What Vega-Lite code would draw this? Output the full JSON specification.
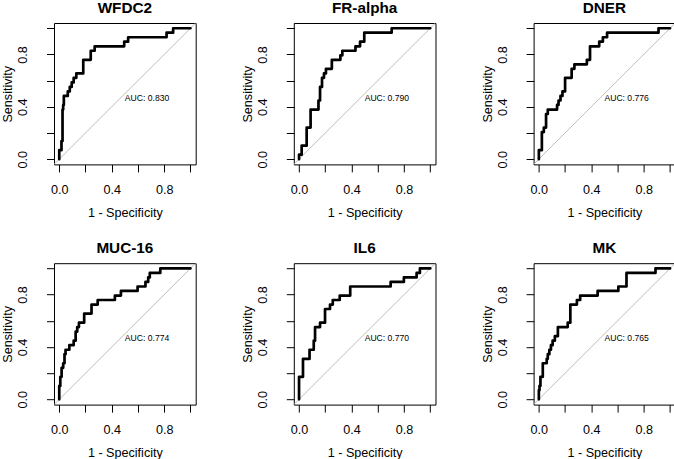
{
  "$schema": "https://vega.github.io/schema/vega-lite/v6.json",
  "padding": 0,
  "autosize": {"type": "pad"},
  "columns": 3,
  "spacing": {"row": 98.2, "column": 97.8},
  "bounds": "flush",
  "datasets": {
    "diag": [{"i": 0, "x": -0.04, "y": -0.04}, {"i": 1, "x": 1.04, "y": 1.04}],
    "WFDC2": [
      {"i":0,"x":0,"y":0},{"i":1,"x":0,"y":0.069},{"i":2,"x":0.017,"y":0.069},{"i":3,"x":0.017,"y":0.138},
      {"i":4,"x":0.025,"y":0.138},{"i":5,"x":0.025,"y":0.379},{"i":6,"x":0.03,"y":0.379},{"i":7,"x":0.03,"y":0.414},
      {"i":8,"x":0.035,"y":0.414},{"i":9,"x":0.035,"y":0.483},{"i":10,"x":0.065,"y":0.483},{"i":11,"x":0.065,"y":0.517},
      {"i":12,"x":0.08,"y":0.517},{"i":13,"x":0.08,"y":0.552},{"i":14,"x":0.095,"y":0.552},{"i":15,"x":0.095,"y":0.586},
      {"i":16,"x":0.11,"y":0.586},{"i":17,"x":0.11,"y":0.621},{"i":18,"x":0.13,"y":0.621},{"i":19,"x":0.13,"y":0.655},
      {"i":20,"x":0.183,"y":0.655},{"i":21,"x":0.183,"y":0.759},{"i":22,"x":0.24,"y":0.759},{"i":23,"x":0.24,"y":0.828},
      {"i":24,"x":0.27,"y":0.828},{"i":25,"x":0.27,"y":0.862},{"i":26,"x":0.495,"y":0.862},{"i":27,"x":0.495,"y":0.897},
      {"i":28,"x":0.525,"y":0.897},{"i":29,"x":0.525,"y":0.931},{"i":30,"x":0.818,"y":0.931},{"i":31,"x":0.818,"y":0.966},
      {"i":32,"x":0.868,"y":0.966},{"i":33,"x":0.868,"y":1},{"i":34,"x":1,"y":1}
    ],
    "FRalpha": [
      {"i":0,"x":0,"y":0},{"i":1,"x":0,"y":0.034},{"i":2,"x":0.02,"y":0.034},{"i":3,"x":0.02,"y":0.103},
      {"i":4,"x":0.058,"y":0.103},{"i":5,"x":0.058,"y":0.241},{"i":6,"x":0.088,"y":0.241},{"i":7,"x":0.088,"y":0.379},
      {"i":8,"x":0.148,"y":0.379},{"i":9,"x":0.148,"y":0.448},{"i":10,"x":0.16,"y":0.448},{"i":11,"x":0.16,"y":0.552},
      {"i":12,"x":0.175,"y":0.552},{"i":13,"x":0.175,"y":0.621},{"i":14,"x":0.19,"y":0.621},{"i":15,"x":0.19,"y":0.655},
      {"i":16,"x":0.205,"y":0.655},{"i":17,"x":0.205,"y":0.69},{"i":18,"x":0.25,"y":0.69},{"i":19,"x":0.25,"y":0.759},
      {"i":20,"x":0.315,"y":0.759},{"i":21,"x":0.315,"y":0.793},{"i":22,"x":0.33,"y":0.793},{"i":23,"x":0.33,"y":0.828},
      {"i":24,"x":0.43,"y":0.828},{"i":25,"x":0.43,"y":0.862},{"i":26,"x":0.465,"y":0.862},{"i":27,"x":0.465,"y":0.897},
      {"i":28,"x":0.497,"y":0.897},{"i":29,"x":0.497,"y":0.966},{"i":30,"x":0.706,"y":0.966},{"i":31,"x":0.706,"y":1},
      {"i":32,"x":1,"y":1}
    ],
    "DNER": [
      {"i":0,"x":0,"y":0},{"i":1,"x":0,"y":0.069},{"i":2,"x":0.023,"y":0.069},{"i":3,"x":0.023,"y":0.207},
      {"i":4,"x":0.038,"y":0.207},{"i":5,"x":0.038,"y":0.241},{"i":6,"x":0.055,"y":0.241},{"i":7,"x":0.055,"y":0.345},
      {"i":8,"x":0.068,"y":0.345},{"i":9,"x":0.068,"y":0.379},{"i":10,"x":0.139,"y":0.379},{"i":11,"x":0.139,"y":0.414},
      {"i":12,"x":0.15,"y":0.414},{"i":13,"x":0.15,"y":0.448},{"i":14,"x":0.165,"y":0.448},{"i":15,"x":0.165,"y":0.483},
      {"i":16,"x":0.18,"y":0.483},{"i":17,"x":0.18,"y":0.517},{"i":18,"x":0.2,"y":0.517},{"i":19,"x":0.2,"y":0.621},
      {"i":20,"x":0.25,"y":0.621},{"i":21,"x":0.25,"y":0.69},{"i":22,"x":0.271,"y":0.69},{"i":23,"x":0.271,"y":0.724},
      {"i":24,"x":0.366,"y":0.724},{"i":25,"x":0.366,"y":0.759},{"i":26,"x":0.39,"y":0.759},{"i":27,"x":0.39,"y":0.862},
      {"i":28,"x":0.46,"y":0.862},{"i":29,"x":0.46,"y":0.897},{"i":30,"x":0.488,"y":0.897},{"i":31,"x":0.488,"y":0.931},
      {"i":32,"x":0.52,"y":0.931},{"i":33,"x":0.52,"y":0.966},{"i":34,"x":0.912,"y":0.966},{"i":35,"x":0.912,"y":1},
      {"i":36,"x":1,"y":1}
    ],
    "MUC16": [
      {"i":0,"x":0,"y":0},{"i":1,"x":0,"y":0.103},{"i":2,"x":0.008,"y":0.103},{"i":3,"x":0.008,"y":0.172},
      {"i":4,"x":0.018,"y":0.172},{"i":5,"x":0.018,"y":0.241},{"i":6,"x":0.03,"y":0.241},{"i":7,"x":0.03,"y":0.276},
      {"i":8,"x":0.04,"y":0.276},{"i":9,"x":0.04,"y":0.345},{"i":10,"x":0.048,"y":0.345},{"i":11,"x":0.048,"y":0.379},
      {"i":12,"x":0.077,"y":0.379},{"i":13,"x":0.077,"y":0.414},{"i":14,"x":0.11,"y":0.414},{"i":15,"x":0.11,"y":0.448},
      {"i":16,"x":0.125,"y":0.448},{"i":17,"x":0.125,"y":0.517},{"i":18,"x":0.137,"y":0.517},{"i":19,"x":0.137,"y":0.552},
      {"i":20,"x":0.15,"y":0.552},{"i":21,"x":0.15,"y":0.586},{"i":22,"x":0.19,"y":0.586},{"i":23,"x":0.19,"y":0.655},
      {"i":24,"x":0.246,"y":0.655},{"i":25,"x":0.246,"y":0.724},{"i":26,"x":0.293,"y":0.724},{"i":27,"x":0.293,"y":0.759},
      {"i":28,"x":0.424,"y":0.759},{"i":29,"x":0.424,"y":0.793},{"i":30,"x":0.47,"y":0.793},{"i":31,"x":0.47,"y":0.828},
      {"i":32,"x":0.597,"y":0.828},{"i":33,"x":0.597,"y":0.862},{"i":34,"x":0.657,"y":0.862},{"i":35,"x":0.657,"y":0.897},
      {"i":36,"x":0.678,"y":0.897},{"i":37,"x":0.678,"y":0.931},{"i":38,"x":0.69,"y":0.931},{"i":39,"x":0.69,"y":0.966},
      {"i":40,"x":0.77,"y":0.966},{"i":41,"x":0.77,"y":1},{"i":42,"x":1,"y":1}
    ],
    "IL6": [
      {"i":0,"x":0,"y":0},{"i":1,"x":0,"y":0.172},{"i":2,"x":0.03,"y":0.172},{"i":3,"x":0.03,"y":0.31},
      {"i":4,"x":0.08,"y":0.31},{"i":5,"x":0.08,"y":0.379},{"i":6,"x":0.112,"y":0.379},{"i":7,"x":0.112,"y":0.448},
      {"i":8,"x":0.122,"y":0.448},{"i":9,"x":0.122,"y":0.552},{"i":10,"x":0.16,"y":0.552},{"i":11,"x":0.16,"y":0.586},
      {"i":12,"x":0.198,"y":0.586},{"i":13,"x":0.198,"y":0.69},{"i":14,"x":0.236,"y":0.69},{"i":15,"x":0.236,"y":0.724},
      {"i":16,"x":0.257,"y":0.724},{"i":17,"x":0.257,"y":0.759},{"i":18,"x":0.31,"y":0.759},{"i":19,"x":0.31,"y":0.793},
      {"i":20,"x":0.39,"y":0.793},{"i":21,"x":0.39,"y":0.862},{"i":22,"x":0.698,"y":0.862},{"i":23,"x":0.698,"y":0.897},
      {"i":24,"x":0.799,"y":0.897},{"i":25,"x":0.799,"y":0.931},{"i":26,"x":0.896,"y":0.931},{"i":27,"x":0.896,"y":0.966},
      {"i":28,"x":0.921,"y":0.966},{"i":29,"x":0.921,"y":1},{"i":30,"x":1,"y":1}
    ],
    "MK": [
      {"i":0,"x":0,"y":0},{"i":1,"x":0,"y":0.069},{"i":2,"x":0.005,"y":0.069},{"i":3,"x":0.005,"y":0.103},
      {"i":4,"x":0.012,"y":0.103},{"i":5,"x":0.012,"y":0.172},{"i":6,"x":0.03,"y":0.172},{"i":7,"x":0.03,"y":0.276},
      {"i":8,"x":0.06,"y":0.276},{"i":9,"x":0.06,"y":0.31},{"i":10,"x":0.068,"y":0.31},{"i":11,"x":0.068,"y":0.345},
      {"i":12,"x":0.08,"y":0.345},{"i":13,"x":0.08,"y":0.379},{"i":14,"x":0.092,"y":0.379},{"i":15,"x":0.092,"y":0.414},
      {"i":16,"x":0.105,"y":0.414},{"i":17,"x":0.105,"y":0.448},{"i":18,"x":0.122,"y":0.448},{"i":19,"x":0.122,"y":0.483},
      {"i":20,"x":0.145,"y":0.483},{"i":21,"x":0.145,"y":0.552},{"i":22,"x":0.22,"y":0.552},{"i":23,"x":0.22,"y":0.586},
      {"i":24,"x":0.24,"y":0.586},{"i":25,"x":0.24,"y":0.724},{"i":26,"x":0.29,"y":0.724},{"i":27,"x":0.29,"y":0.759},
      {"i":28,"x":0.315,"y":0.759},{"i":29,"x":0.315,"y":0.793},{"i":30,"x":0.448,"y":0.793},{"i":31,"x":0.448,"y":0.828},
      {"i":32,"x":0.606,"y":0.828},{"i":33,"x":0.606,"y":0.862},{"i":34,"x":0.668,"y":0.862},{"i":35,"x":0.668,"y":0.966},
      {"i":36,"x":0.889,"y":0.966},{"i":37,"x":0.889,"y":1},{"i":38,"x":1,"y":1}
    ]
  },
  "concat": [
    {
      "title": "WFDC2", "width": 141.7, "height": 141.4,
      "encoding": {
        "x": {"field": "x", "type": "quantitative", "scale": {"domain": [-0.04, 1.04], "nice": false, "zero": false}, "axis": {"values": [0, 0.2, 0.4, 0.6, 0.8, 1], "title": "1 - Specificity", "labelAngle": 0, "labelAlign": "center", "labelBaseline": "alphabetic", "labelPadding": 21.5, "titleBaseline": "alphabetic", "titleY": 51.8}},
        "y": {"field": "y", "type": "quantitative", "scale": {"domain": [-0.04, 1.04], "nice": false, "zero": false}, "axis": {"values": [0, 0.2, 0.4, 0.6, 0.8, 1], "title": "Sensitivity", "labelAngle": -90, "labelAlign": "center", "labelBaseline": "alphabetic", "labelPadding": 20, "titleAngle": -90, "titleAlign": "center", "titleBaseline": "alphabetic", "titleX": -42.5}}
      },
      "layer": [
        {"data": {"name": "diag"}, "mark": {"type": "line", "color": "#BEBEBE", "strokeWidth": 1, "clip": true}, "encoding": {"order": {"field": "i"}}},
        {"data": {"name": "WFDC2"}, "mark": {"type": "line", "color": "black", "strokeWidth": 2.7, "strokeJoin": "round", "strokeCap": "round"}, "encoding": {"order": {"field": "i"}}},
        {"data": {"values": [{"x": 0.5, "y": 0.5, "t": "AUC: 0.830"}]}, "mark": {"type": "text", "align": "left", "baseline": "alphabetic", "dy": 7.2, "fontSize": 8.6, "font": "Liberation Sans", "color": "black"}, "encoding": {"text": {"field": "t"}}}
      ]
    },
    {
      "title": "FR-alpha", "width": 141.7, "height": 141.4,
      "encoding": {
        "x": {"field": "x", "type": "quantitative", "scale": {"domain": [-0.04, 1.04], "nice": false, "zero": false}, "axis": {"values": [0, 0.2, 0.4, 0.6, 0.8, 1], "title": "1 - Specificity", "labelAngle": 0, "labelAlign": "center", "labelBaseline": "alphabetic", "labelPadding": 21.5, "titleBaseline": "alphabetic", "titleY": 51.8}},
        "y": {"field": "y", "type": "quantitative", "scale": {"domain": [-0.04, 1.04], "nice": false, "zero": false}, "axis": {"values": [0, 0.2, 0.4, 0.6, 0.8, 1], "title": "Sensitivity", "labelAngle": -90, "labelAlign": "center", "labelBaseline": "alphabetic", "labelPadding": 20, "titleAngle": -90, "titleAlign": "center", "titleBaseline": "alphabetic", "titleX": -42.5}}
      },
      "layer": [
        {"data": {"name": "diag"}, "mark": {"type": "line", "color": "#BEBEBE", "strokeWidth": 1, "clip": true}, "encoding": {"order": {"field": "i"}}},
        {"data": {"name": "FRalpha"}, "mark": {"type": "line", "color": "black", "strokeWidth": 2.7, "strokeJoin": "round", "strokeCap": "round"}, "encoding": {"order": {"field": "i"}}},
        {"data": {"values": [{"x": 0.5, "y": 0.5, "t": "AUC: 0.790"}]}, "mark": {"type": "text", "align": "left", "baseline": "alphabetic", "dy": 7.2, "fontSize": 8.6, "font": "Liberation Sans", "color": "black"}, "encoding": {"text": {"field": "t"}}}
      ]
    },
    {
      "title": "DNER", "width": 141.7, "height": 141.4,
      "encoding": {
        "x": {"field": "x", "type": "quantitative", "scale": {"domain": [-0.04, 1.04], "nice": false, "zero": false}, "axis": {"values": [0, 0.2, 0.4, 0.6, 0.8, 1], "title": "1 - Specificity", "labelAngle": 0, "labelAlign": "center", "labelBaseline": "alphabetic", "labelPadding": 21.5, "titleBaseline": "alphabetic", "titleY": 51.8}},
        "y": {"field": "y", "type": "quantitative", "scale": {"domain": [-0.04, 1.04], "nice": false, "zero": false}, "axis": {"values": [0, 0.2, 0.4, 0.6, 0.8, 1], "title": "Sensitivity", "labelAngle": -90, "labelAlign": "center", "labelBaseline": "alphabetic", "labelPadding": 20, "titleAngle": -90, "titleAlign": "center", "titleBaseline": "alphabetic", "titleX": -42.5}}
      },
      "layer": [
        {"data": {"name": "diag"}, "mark": {"type": "line", "color": "#BEBEBE", "strokeWidth": 1, "clip": true}, "encoding": {"order": {"field": "i"}}},
        {"data": {"name": "DNER"}, "mark": {"type": "line", "color": "black", "strokeWidth": 2.7, "strokeJoin": "round", "strokeCap": "round"}, "encoding": {"order": {"field": "i"}}},
        {"data": {"values": [{"x": 0.5, "y": 0.5, "t": "AUC: 0.776"}]}, "mark": {"type": "text", "align": "left", "baseline": "alphabetic", "dy": 7.2, "fontSize": 8.6, "font": "Liberation Sans", "color": "black"}, "encoding": {"text": {"field": "t"}}}
      ]
    },
    {
      "title": "MUC-16", "width": 141.7, "height": 141.4,
      "encoding": {
        "x": {"field": "x", "type": "quantitative", "scale": {"domain": [-0.04, 1.04], "nice": false, "zero": false}, "axis": {"values": [0, 0.2, 0.4, 0.6, 0.8, 1], "title": "1 - Specificity", "labelAngle": 0, "labelAlign": "center", "labelBaseline": "alphabetic", "labelPadding": 21.5, "titleBaseline": "alphabetic", "titleY": 51.8}},
        "y": {"field": "y", "type": "quantitative", "scale": {"domain": [-0.04, 1.04], "nice": false, "zero": false}, "axis": {"values": [0, 0.2, 0.4, 0.6, 0.8, 1], "title": "Sensitivity", "labelAngle": -90, "labelAlign": "center", "labelBaseline": "alphabetic", "labelPadding": 20, "titleAngle": -90, "titleAlign": "center", "titleBaseline": "alphabetic", "titleX": -42.5}}
      },
      "layer": [
        {"data": {"name": "diag"}, "mark": {"type": "line", "color": "#BEBEBE", "strokeWidth": 1, "clip": true}, "encoding": {"order": {"field": "i"}}},
        {"data": {"name": "MUC16"}, "mark": {"type": "line", "color": "black", "strokeWidth": 2.7, "strokeJoin": "round", "strokeCap": "round"}, "encoding": {"order": {"field": "i"}}},
        {"data": {"values": [{"x": 0.5, "y": 0.5, "t": "AUC: 0.774"}]}, "mark": {"type": "text", "align": "left", "baseline": "alphabetic", "dy": 7.2, "fontSize": 8.6, "font": "Liberation Sans", "color": "black"}, "encoding": {"text": {"field": "t"}}}
      ]
    },
    {
      "title": "IL6", "width": 141.7, "height": 141.4,
      "encoding": {
        "x": {"field": "x", "type": "quantitative", "scale": {"domain": [-0.04, 1.04], "nice": false, "zero": false}, "axis": {"values": [0, 0.2, 0.4, 0.6, 0.8, 1], "title": "1 - Specificity", "labelAngle": 0, "labelAlign": "center", "labelBaseline": "alphabetic", "labelPadding": 21.5, "titleBaseline": "alphabetic", "titleY": 51.8}},
        "y": {"field": "y", "type": "quantitative", "scale": {"domain": [-0.04, 1.04], "nice": false, "zero": false}, "axis": {"values": [0, 0.2, 0.4, 0.6, 0.8, 1], "title": "Sensitivity", "labelAngle": -90, "labelAlign": "center", "labelBaseline": "alphabetic", "labelPadding": 20, "titleAngle": -90, "titleAlign": "center", "titleBaseline": "alphabetic", "titleX": -42.5}}
      },
      "layer": [
        {"data": {"name": "diag"}, "mark": {"type": "line", "color": "#BEBEBE", "strokeWidth": 1, "clip": true}, "encoding": {"order": {"field": "i"}}},
        {"data": {"name": "IL6"}, "mark": {"type": "line", "color": "black", "strokeWidth": 2.7, "strokeJoin": "round", "strokeCap": "round"}, "encoding": {"order": {"field": "i"}}},
        {"data": {"values": [{"x": 0.5, "y": 0.5, "t": "AUC: 0.770"}]}, "mark": {"type": "text", "align": "left", "baseline": "alphabetic", "dy": 7.2, "fontSize": 8.6, "font": "Liberation Sans", "color": "black"}, "encoding": {"text": {"field": "t"}}}
      ]
    },
    {
      "title": "MK", "width": 141.7, "height": 141.4,
      "encoding": {
        "x": {"field": "x", "type": "quantitative", "scale": {"domain": [-0.04, 1.04], "nice": false, "zero": false}, "axis": {"values": [0, 0.2, 0.4, 0.6, 0.8, 1], "title": "1 - Specificity", "labelAngle": 0, "labelAlign": "center", "labelBaseline": "alphabetic", "labelPadding": 21.5, "titleBaseline": "alphabetic", "titleY": 51.8}},
        "y": {"field": "y", "type": "quantitative", "scale": {"domain": [-0.04, 1.04], "nice": false, "zero": false}, "axis": {"values": [0, 0.2, 0.4, 0.6, 0.8, 1], "title": "Sensitivity", "labelAngle": -90, "labelAlign": "center", "labelBaseline": "alphabetic", "labelPadding": 20, "titleAngle": -90, "titleAlign": "center", "titleBaseline": "alphabetic", "titleX": -42.5}}
      },
      "layer": [
        {"data": {"name": "diag"}, "mark": {"type": "line", "color": "#BEBEBE", "strokeWidth": 1, "clip": true}, "encoding": {"order": {"field": "i"}}},
        {"data": {"name": "MK"}, "mark": {"type": "line", "color": "black", "strokeWidth": 2.7, "strokeJoin": "round", "strokeCap": "round"}, "encoding": {"order": {"field": "i"}}},
        {"data": {"values": [{"x": 0.5, "y": 0.5, "t": "AUC: 0.765"}]}, "mark": {"type": "text", "align": "left", "baseline": "alphabetic", "dy": 7.2, "fontSize": 8.6, "font": "Liberation Sans", "color": "black"}, "encoding": {"text": {"field": "t"}}}
      ]
    }
  ],
  "config": {
    "background": "white",
    "view": {"stroke": "black", "strokeWidth": 1},
    "axis": {
      "domain": false, "grid": false, "ticks": true,
      "tickColor": "black", "tickSize": 7.5, "tickWidth": 1,
      "labelFont": "Liberation Sans", "labelFontSize": 12.6, "labelColor": "black",
      "titleFont": "Liberation Sans", "titleFontSize": 12.6, "titleFontWeight": "normal", "titleColor": "black",
      "labelFlush": false, "labelOverlap": false,
      "labelExpr": "datum.value == 0 ? '0.0' : datum.value == 0.4 ? '0.4' : datum.value == 0.8 ? '0.8' : ''"
    },
    "title": {"font": "Liberation Sans", "fontSize": 15.3, "fontWeight": "bold", "color": "black", "anchor": "middle", "frame": "group", "baseline": "alphabetic", "offset": 6.5}
  }
}
